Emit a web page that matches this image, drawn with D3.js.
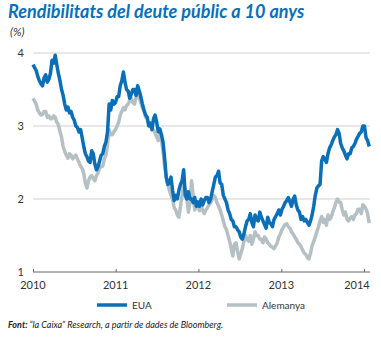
<!DOCTYPE html>
<html>
<head>
<meta charset="utf-8">
<script src="https://cdn.jsdelivr.net/npm/d3@7"></script>
<style>
  html, body { margin: 0; padding: 0; background: #fff; }
  svg { display: block; }
  text { font-family: Lato, "Open Sans", sans-serif; }
</style>
</head>
<body>
<svg id="chart" width="381" height="338"></svg>
<script>
// 10-year government bond yields (%), weekly from 1 Jan 2010
const startDate = "2010-01-01";
const stepDays = 7;

const usYield = [
  3.84, 3.80, 3.76, 3.68, 3.62, 3.58, 3.55, 3.66, 3.70, 3.60,
  3.64, 3.72, 3.90, 3.86, 3.97, 3.84, 3.72, 3.62, 3.50, 3.42,
  3.30, 3.22, 3.26, 3.18, 3.20, 3.12, 3.08, 3.00, 2.98, 2.92,
  2.95, 2.84, 2.72, 2.62, 2.58, 2.52, 2.50, 2.66, 2.62, 2.48,
  2.40, 2.44, 2.52, 2.60, 2.62, 2.72, 2.78, 2.92, 3.30, 3.22,
  3.35, 3.30, 3.32, 3.40, 3.40, 3.55, 3.62, 3.74, 3.60, 3.50,
  3.48, 3.38, 3.44, 3.50, 3.50, 3.42, 3.55, 3.48, 3.40, 3.30,
  3.22, 3.15, 3.12, 3.00, 3.04, 2.95, 3.10, 3.15, 3.05, 2.92,
  2.96, 2.88, 2.78, 2.56, 2.30, 2.20, 2.22, 2.30, 2.12, 1.98,
  2.05, 2.00, 2.12, 2.20, 2.25, 2.40, 2.05, 2.00, 2.10, 2.00,
  2.00, 1.95, 2.02, 1.90, 1.96, 1.90, 2.00, 1.92, 1.98, 2.02,
  2.02, 1.95, 2.00, 2.10, 2.20, 2.30, 2.32, 2.38, 2.22, 2.20,
  2.05, 2.00, 1.95, 1.85, 1.80, 1.72, 1.70, 1.62, 1.62, 1.58,
  1.55, 1.48, 1.45, 1.52, 1.62, 1.70, 1.72, 1.80, 1.68, 1.62,
  1.78, 1.72, 1.70, 1.82, 1.75, 1.70, 1.65, 1.60, 1.75, 1.68,
  1.66, 1.62, 1.72, 1.76, 1.80, 1.85, 1.78, 1.86, 1.90, 1.95,
  1.98, 2.02, 1.96, 1.90, 2.00, 2.04, 1.92, 1.85, 1.82, 1.72,
  1.76, 1.70, 1.72, 1.68, 1.64, 1.70, 1.78, 1.90, 2.05, 2.15,
  2.18, 2.20, 2.52, 2.58, 2.55, 2.50, 2.62, 2.70, 2.74, 2.80,
  2.85, 2.88, 2.95, 2.90, 2.76, 2.70, 2.66, 2.60, 2.55, 2.62,
  2.62, 2.70, 2.72, 2.76, 2.82, 2.86, 2.90, 2.92, 3.00, 3.00,
  2.84, 2.80, 2.72
];

const deYield = [
  3.38, 3.34, 3.30, 3.22, 3.18, 3.15, 3.16, 3.20, 3.20, 3.12,
  3.14, 3.10, 3.10, 3.14, 3.12, 3.05, 3.02, 2.92, 2.85, 2.72,
  2.65, 2.60, 2.56, 2.62, 2.60, 2.55, 2.58, 2.60, 2.55, 2.50,
  2.45, 2.42, 2.35, 2.22, 2.15, 2.25, 2.30, 2.32, 2.28, 2.25,
  2.32, 2.36, 2.42, 2.45, 2.45, 2.55, 2.60, 2.75, 2.95, 2.88,
  2.88, 2.92, 2.95, 3.00, 3.05, 3.15, 3.20, 3.25, 3.22, 3.28,
  3.30, 3.35, 3.38, 3.32, 3.30, 3.40, 3.45, 3.38, 3.32, 3.25,
  3.20, 3.12, 3.10, 3.02, 3.02, 2.95, 2.95, 2.90, 2.85, 2.80,
  2.90, 2.82, 2.65, 2.45, 2.30, 2.20, 2.12, 2.05, 2.00, 1.88,
  1.85, 1.78, 1.75, 1.90, 2.05, 2.20, 2.15, 2.00, 1.82, 1.95,
  2.25, 2.05, 1.85, 1.92, 1.90, 1.84, 1.92, 1.85, 1.80, 1.85,
  1.88, 1.92, 1.95, 2.00, 2.05, 2.02, 1.95, 1.90, 1.85, 1.78,
  1.70, 1.62, 1.58, 1.50, 1.42, 1.32, 1.22, 1.38, 1.40, 1.28,
  1.18, 1.25, 1.32, 1.42, 1.50, 1.45, 1.42, 1.50, 1.38, 1.45,
  1.55, 1.50, 1.50, 1.45, 1.45, 1.40, 1.48, 1.45, 1.40, 1.38,
  1.35, 1.34, 1.32, 1.36, 1.40, 1.48, 1.52, 1.58, 1.62, 1.65,
  1.66, 1.62, 1.60, 1.55, 1.52, 1.48, 1.45, 1.40, 1.38, 1.35,
  1.30, 1.26, 1.24, 1.20, 1.18, 1.26, 1.36, 1.42, 1.48, 1.55,
  1.62, 1.70, 1.76, 1.68, 1.72, 1.64, 1.78, 1.72, 1.75, 1.82,
  1.88, 1.95, 2.00, 1.96, 1.95, 1.85, 1.78, 1.82, 1.72, 1.70,
  1.74, 1.76, 1.72, 1.78, 1.80, 1.86, 1.86, 1.80, 1.92, 1.90,
  1.86, 1.80, 1.67
];

const yTicks = [1, 2, 3, 4];
const xTickYears = ["2010", "2011", "2012", "2013", "2014"];
const seriesNames = ["EUA", "Alemanya"];
const seriesColors = ["#0b6fb8", "#b5c0c5"];

const parse = d3.timeParse("%Y-%m-%d");
const t0 = parse(startDate);
const dateAt = i => d3.timeDay.offset(t0, i * stepDays);

const series = [usYield, deYield].map((vals, k) => ({
  name: seriesNames[k],
  color: seriesColors[k],
  points: vals.map((v, i) => ({ date: dateAt(i), value: v }))
}));

const svg = d3.select("#chart");

const x = d3.scaleTime()
  .domain([parse("2010-01-01"), parse("2014-01-01")])
  .range([33, 364]);
const y = d3.scaleLinear().domain([1, 4]).range([272, 53]);
const xEnd = 370;

// title and unit
svg.append("text")
  .attr("x", 8).attr("y", 18)
  .attr("fill", "#0b6fb8")
  .attr("font-size", 18)
  .attr("font-weight", 700)
  .attr("font-style", "italic")
  .text("Rendibilitats del deute públic a 10 anys");

svg.append("text")
  .attr("x", 10).attr("y", 36)
  .attr("fill", "#333")
  .attr("font-size", 11.5)
  .attr("font-style", "italic")
  .text("(%)");

// horizontal gridlines
svg.append("g")
  .selectAll("line")
  .data(yTicks.filter(d => d > 1))
  .join("line")
  .attr("x1", 33).attr("x2", xEnd)
  .attr("y1", d => y(d)).attr("y2", d => y(d))
  .attr("stroke", "#cfcfcf")
  .attr("stroke-width", 1);

// y labels
svg.append("g")
  .selectAll("text")
  .data(yTicks)
  .join("text")
  .attr("x", 24)
  .attr("y", d => y(d) + 4)
  .attr("text-anchor", "end")
  .attr("font-size", 11)
  .attr("fill", "#333")
  .text(d => d);

// x axis
const xAxis = d3.axisBottom(x)
  .tickValues(xTickYears.map(s => parse(s + "-01-01")))
  .tickSize(-3)
  .tickFormat("");
const gx = svg.append("g")
  .attr("transform", `translate(0,${y(1)})`)
  .call(xAxis);
gx.select(".domain").remove();
gx.selectAll(".tick line").attr("stroke", "#666");
gx.append("line")
  .attr("x1", 33).attr("x2", xEnd)
  .attr("stroke", "#666").attr("stroke-width", 1);

svg.append("g")
  .selectAll("text")
  .data(xTickYears)
  .join("text")
  .attr("x", (d, i) => {
    const px = x(parse(d + "-01-01"));
    return i === xTickYears.length - 1 ? px - 7 : px;
  })
  .attr("y", 289)
  .attr("text-anchor", "middle")
  .attr("font-size", 11)
  .attr("fill", "#333")
  .text(d => d);

// series lines (Germany drawn first so the US line sits on top)
const line = d3.line()
  .x(d => x(d.date))
  .y(d => y(d.value));

svg.append("g")
  .selectAll("path")
  .data(series.slice().reverse())
  .join("path")
  .attr("d", d => line(d.points))
  .attr("fill", "none")
  .attr("stroke", d => d.color)
  .attr("stroke-width", 3.5)
  .attr("stroke-linejoin", "round");

// legend
const legendX = [97, 227];
const lg = svg.append("g")
  .selectAll("g")
  .data(series)
  .join("g")
  .attr("transform", (d, i) => `translate(${legendX[i]},305)`);
lg.append("line")
  .attr("x1", 0).attr("x2", 30)
  .attr("stroke", d => d.color)
  .attr("stroke-width", 3.5);
lg.append("text")
  .attr("x", 35).attr("y", 3.5)
  .attr("font-size", 10)
  .attr("fill", "#333")
  .text(d => d.name);

// source note
const note = svg.append("text")
  .attr("x", 8).attr("y", 328)
  .attr("font-size", 9)
  .attr("font-style", "italic")
  .attr("fill", "#222");
note.append("tspan").attr("font-weight", 700).text("Font: ");
note.append("tspan").text("“la Caixa” Research, a partir de dades de Bloomberg.");
</script>
</body>
</html>
